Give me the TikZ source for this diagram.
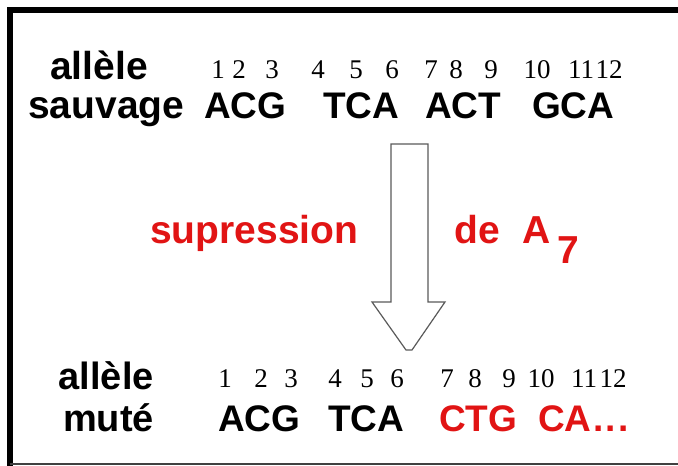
\documentclass[tikz,border=0pt]{standalone}
\usepackage{fontspec}
\setmainfont{Liberation Sans}
\newfontfamily\digitfont{Liberation Serif}
\definecolor{redtxt}{RGB}{225,20,20}
\definecolor{arrowgray}{RGB}{90,90,90}
\begin{document}
\begin{tikzpicture}[x=1pt,y=-1pt,
  lbl/.style={font=\fontsize{39}{42}\selectfont\bfseries, inner sep=0pt, anchor=base west},
  lblr/.style={font=\fontsize{38}{42}\selectfont\bfseries, inner sep=0pt, anchor=base east},
  seq/.style={font=\fontsize{37}{40}\selectfont\bfseries, inner sep=0pt, anchor=base west},
  num/.style={font=\fontsize{27}{30}\selectfont\digitfont, inner sep=0pt, anchor=base},
  redt/.style={text=redtxt}]
\useasboundingbox[fill=white] (0,0) rectangle (678,466);
% frame
\draw[line width=6pt, line cap=rect] (10,464) -- (10,10) -- (678,10);
\draw[line width=2.5pt, black!75] (10,464) -- (678,464);
% big arrow
\draw[arrowgray, line width=1.2pt, line join=miter, fill=white]
  (391,144) -- (428,144) -- (428,302) -- (445,302) -- (412,350) -- (406,350)
  -- (372,302) -- (391,302) -- cycle;
% row 1
\node[lbl] (a1) at (50,79) {allèle};
\node[lbl] (s1) at (28,118) {sauvage};
\node[seq] (q1) at (204,118) {ACG};
\node[seq] (q2) at (323,118) {TCA};
\node[seq] (q3) at (425,118) {ACT};
\node[seq] (q4) at (532,118) {GCA};
\foreach \n/\x in {1/218,2/239,3/272,4/318,5/356,6/392,7/431,8/456,9/491,10/537,11/581,12/609}
  \node[num] (t\n) at (\x,78) {\n};
% middle
\node[lbl, redt] (sup) at (150,243) {supression};
\node[lbl, redt] (de) at (454,243) {de};
\node[lbl, redt] (aa) at (522,243) {A};
\node[lbl, redt] (sev) at (557,263) {7};
% bottom row
\node[lblr] (a2) at (154,389) {allèle};
\node[lblr] (m2) at (154,431) {muté};
\node[seq] (r1) at (218,431) {ACG};
\node[seq] (r2) at (328,431) {TCA};
\node[seq, redt] (r3) at (439,431) {CTG};
\node[seq, redt] (r4) at (538,431) {CA\kern2pt.\kern2pt.\kern2pt.};
\foreach \n/\x in {1/225,2/261,3/291,4/335,5/367,6/397,7/447,8/475,9/509,10/541,11/584,12/613}
  \node[num] (b\n) at (\x,387) {\n};
\end{tikzpicture}
\end{document}
